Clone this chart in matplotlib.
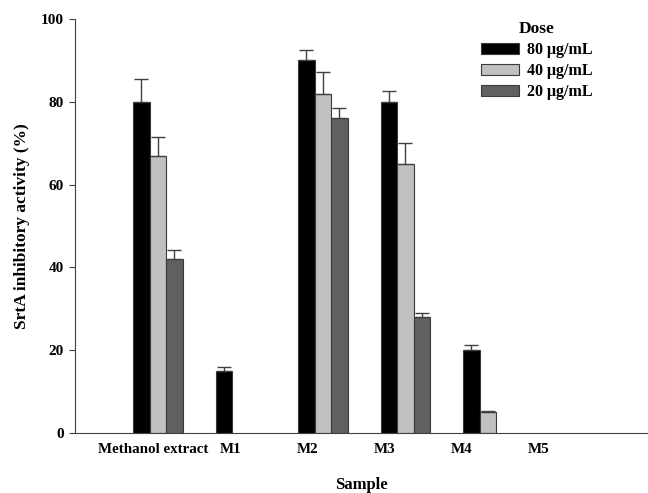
import matplotlib
matplotlib.use("Agg")
import matplotlib.pyplot as plt
import numpy as np

plt.rcParams["font.family"] = ["Liberation Serif", "DejaVu Serif"]
plt.rcParams["font.weight"] = "bold"

samples = ["Methanol extract", "M1", "M2", "M3", "M4", "M5"]
doses = ["80 \u03bcg/mL", "40 \u03bcg/mL", "20 \u03bcg/mL"]
act_80 = [80, 15, 90, 80, 20, 0]
act_40 = [67, 0, 82, 65, 5, 0]
act_20 = [42, 0, 76, 28, 0, 0]
err_80 = [5.4, 1.0, 2.5, 2.6, 1.2, 0]
err_40 = [4.5, 0, 5.3, 5.0, 0.3, 0]
err_20 = [2.3, 0, 2.4, 0.9, 0, 0]

colors = ["#000000", "#c0c0c0", "#606060"]

fig = plt.figure(figsize=(6.48, 4.93), dpi=100)
ax = fig.add_axes([0.1165, 0.1217, 0.8835, 0.8398])

x = np.arange(len(samples))
width = 0.2
handles = []
for k, (vals, errs) in enumerate(zip([act_80, act_40, act_20], [err_80, err_40, err_20])):
    pos = x + (k - 1) * width
    vals = np.array(vals, dtype=float)
    errs = np.array(errs, dtype=float)
    keep = vals > 0
    h = ax.bar(pos[keep], vals[keep], width, color=colors[k], edgecolor="#3a3a3a",
               linewidth=0.8, label=doses[k], zorder=2)
    handles.append(h)
    ax.errorbar(pos[keep], vals[keep], yerr=[np.zeros(keep.sum()), errs[keep]],
                fmt="none", ecolor="#404040", elinewidth=1.0, capsize=4.7,
                capthick=1.0, zorder=3)

ax.set_xlim(-1.0, 5.94)
ax.set_ylim(0, 100)
ax.set_yticks(range(0, 101, 20))
ax.tick_params(axis="y", labelsize=11, length=4.5, width=0.8, color="#404040", pad=4)
# category labels sit slightly left of the bar groups, as in the original
ax.set_xticks(x * 0.935 - 0.06)
ax.set_xticklabels(samples, fontsize=10.8, fontweight="bold")
ax.tick_params(axis="x", length=0, pad=7)

for side in ("top", "right"):
    ax.spines[side].set_visible(False)
for side in ("left", "bottom"):
    ax.spines[side].set_color("#404040")
    ax.spines[side].set_linewidth(0.8)

ax.set_ylabel("SrtA inhibitory activity (%)", fontsize=12.5, fontweight="bold", labelpad=8)
ax.set_xlabel("Sample", fontsize=12, fontweight="bold", labelpad=15)

leg = ax.legend(handles=handles, title="Dose", loc="upper left",
                bbox_to_anchor=(0.7075, 0.995), frameon=False, fontsize=11.5,
                title_fontproperties={"weight": "bold", "size": 12.5},
                handlelength=2.4, handleheight=0.7, handletextpad=0.5,
                labelspacing=0.32, borderpad=0, borderaxespad=0)

fig.savefig("out.png", dpi=100)
